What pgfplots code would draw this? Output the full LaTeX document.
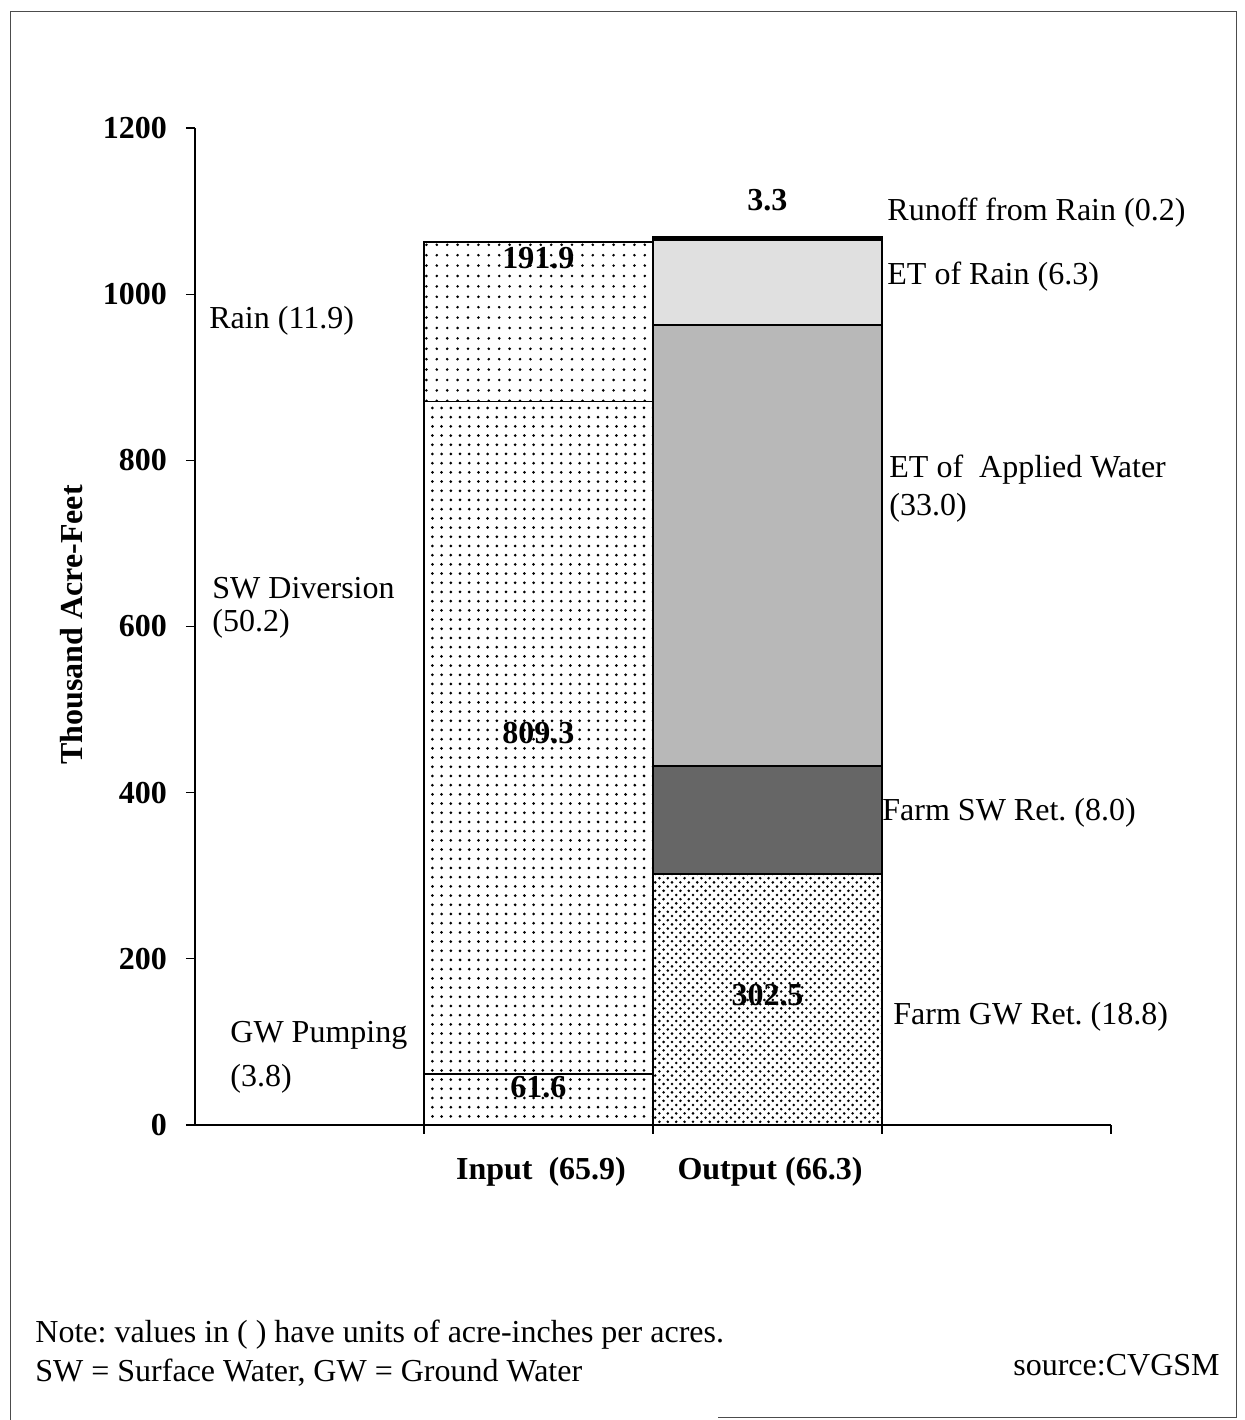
\documentclass[border=0pt]{standalone}
\usepackage{fontspec}
\setmainfont{Liberation Serif}
\usepackage{pgfplots}
\pgfplotsset{compat=1.18}
\usetikzlibrary{patterns.meta}
\frenchspacing
\newcommand\lbl{\fontsize{16}{19.2}\selectfont}

\begin{document}
\begin{tikzpicture}[x=0.5pt,y=0.5pt,font=\lbl]
\path[use as bounding box] (0,0) rectangle (1244,1420);
% page frame (scanned border)
\draw[black!70,line width=0.5pt] (10,0) -- (10,1408) -- (1236,1408) -- (1236,2) -- (718,2);

\begin{axis}[
  at={(97.5pt,147.5pt)}, anchor=south west,
  scale only axis, width=458pt, height=498.5pt,
  xmin=-0.5, xmax=3.5, ymin=0, ymax=1200,
  axis x line*=bottom, axis y line*=left,
  axis line style={black, line width=0.6pt},
  ybar stacked, bar width=1,
  xtick={0.5,1.5,2.5,3.5}, xticklabels={},
  ytick={0,200,400,600,800,1000,1200},
  tick align=outside, major tick length=4.5pt,
  tick style={black, line width=0.6pt},
  yticklabel style={font=\lbl\bfseries, xshift=-6pt},
  /pgf/number format/1000 sep={},
  /pgf/number format/assume math mode=true,
  clip=false,
]
% Input GW Pumping
\addplot[draw=black, line width=0.7pt, pattern color=black,
  pattern={Dots[distance=4.6pt,radius=0.75pt]}]
  coordinates {(1,61.6) (2,0)};
% Output Farm GW Ret.
\addplot[draw=black, line width=1pt, pattern color=black,
  pattern={Dots[distance=4.2pt,radius=0.72pt]},
  postaction={pattern color=black, pattern={Dots[distance=4.2pt,radius=0.72pt,xshift=2.1pt,yshift=2.1pt]}}]
  coordinates {(1,0) (2,302.5)};
% Input SW Diversion
\addplot[draw=black, line width=0.7pt, pattern color=black,
  pattern={Dots[distance=4.6pt,radius=0.75pt]}]
  coordinates {(1,809.3) (2,0)};
% Output Farm SW Ret.
\addplot[draw=black, line width=1pt, fill=black!60]
  coordinates {(1,0) (2,129.3)};
% Input Rain
\addplot[draw=black, line width=0.7pt, pattern color=black,
  pattern={Dots[distance=5.2pt,radius=0.72pt]}]
  coordinates {(1,191.9) (2,0)};
% Output ET of Applied Water
\addplot[draw=black, line width=1pt, fill=black!28]
  coordinates {(1,0) (2,531.1)};
% Output ET of Rain
\addplot[draw=black, line width=1pt, fill=black!12]
  coordinates {(1,0) (2,102.2)};
% Output Runoff from Rain
\addplot[draw=black, line width=1pt, fill=black]
  coordinates {(1,0) (2,3.3)};

\node[font=\lbl\bfseries] at (axis cs:1,1043.5) {191.9};
\node[font=\lbl\bfseries] at (axis cs:1,471.8) {809.3};
\node[font=\lbl\bfseries] at (axis cs:1,45.7) {61.6};
\node[font=\lbl\bfseries] at (axis cs:2,1113.3) {3.3};
\node[font=\lbl\bfseries] at (axis cs:2,1017) {102.2};
\node[font=\lbl\bfseries] at (axis cs:2,704.1) {531.1};
\node[font=\lbl\bfseries] at (axis cs:2,373.1) {129.3};
\node[font=\lbl\bfseries] at (axis cs:2,156.5) {302.5};
\end{axis}

% y label
\node[rotate=90,font=\lbl\bfseries] at (72,795) {Thousand Acre-Feet};

% category labels
\node[font=\lbl\bfseries] at (541,248) {Input\ \ (65.9)};
\node[font=\lbl\bfseries] at (770,248) {Output (66.3)};

% left labels
\node[anchor=west,inner sep=0pt] at (209,1099) {Rain (11.9)};
\node[anchor=west,inner sep=0pt] at (212,832) {SW Diversion};
\node[anchor=west,inner sep=0pt] at (212,796) {(50.2)};
\node[anchor=west,inner sep=0pt] at (230,385) {GW Pumping};
\node[anchor=west,inner sep=0pt] at (230,341) {(3.8)};

% right labels
\node[anchor=west,inner sep=0pt] at (887,1207) {Runoff from Rain (0.2)};
\node[anchor=west,inner sep=0pt] at (887,1143) {ET of Rain (6.3)};
\node[anchor=west,inner sep=0pt] at (889,950) {ET of\ \ Applied Water};
\node[anchor=west,inner sep=0pt] at (889,912) {(33.0)};
\node[anchor=west,inner sep=0pt] at (882,607) {Farm SW Ret. (8.0)};
\node[anchor=west,inner sep=0pt] at (893,403) {Farm GW Ret. (18.8)};

% notes
\node[anchor=west,inner sep=0pt] at (35,85) {Note: values in ( ) have units of acre-inches per acres.};
\node[anchor=west,inner sep=0pt] at (35,47) {SW = Surface Water, GW = Ground Water};
\node[anchor=east,inner sep=0pt] at (1220,55) {source:CVGSM};
\end{tikzpicture}
\end{document}
